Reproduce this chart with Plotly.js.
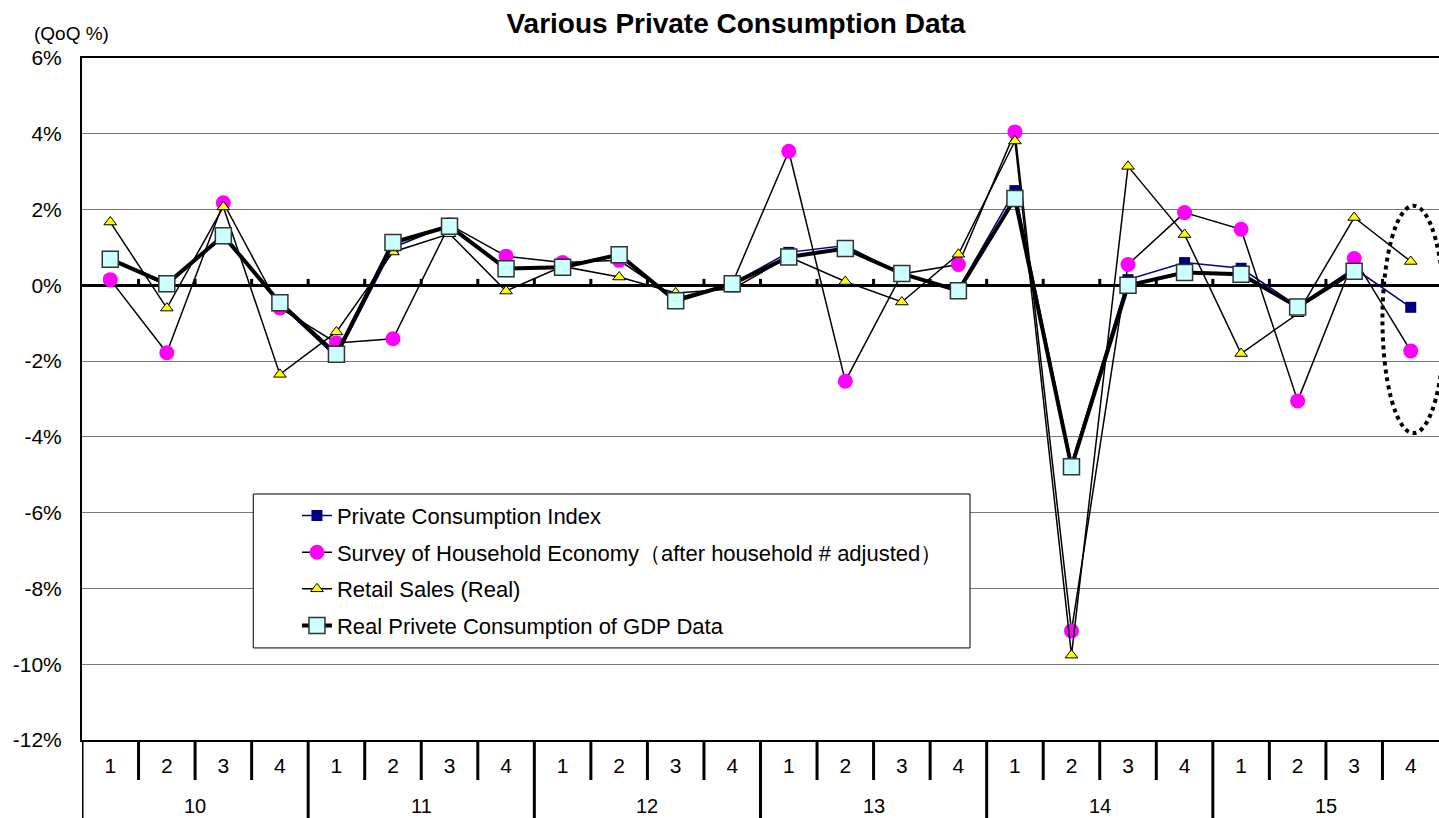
<!DOCTYPE html>
<html>
<head>
<meta charset="utf-8">
<script src="https://cdn.plot.ly/plotly-3.0.1.min.js"></script>
<style>html,body{margin:0;padding:0;background:#fff;}#chart{width:1439px;height:818px;}</style>
</head>
<body>
<div id="chart"></div>
<script>
// ---- data ----
const years = ['10', '11', '12', '13', '14', '15'];
const quarters = ['1', '2', '3', '4'];
const pci    = [0.70, 0.00, 1.30, -0.50, -1.90, 1.00, 1.60, 0.45, 0.50, 0.80, -0.40, 0.05, 0.87, 1.05, 0.30, -0.10, 2.50, -4.70, 0.15, 0.60, 0.45, -0.55, 0.45, -0.58];
const survey = [0.15, -1.78, 2.18, -0.60, -1.52, -1.41, 1.60, 0.77, 0.60, 0.66, -0.35, 0.05, 3.54, -2.53, 0.30, 0.55, 4.05, -9.12, 0.55, 1.92, 1.48, -3.05, 0.71, -1.73];
const retail = [1.67, -0.60, 2.07, -2.35, -1.23, 0.88, 1.36, -0.15, 0.50, 0.22, -0.20, -0.10, 0.75, 0.10, -0.44, 0.82, 3.81, -9.76, 3.14, 1.34, -1.80, -0.75, 1.79, 0.63];
const gdp    = [0.69, 0.04, 1.31, -0.46, -1.82, 1.13, 1.56, 0.44, 0.48, 0.81, -0.41, 0.04, 0.75, 0.97, 0.31, -0.14, 2.29, -4.79, 0.00, 0.34, 0.29, -0.57, 0.37, null];
const seriesNames = [
  'Private Consumption Index',
  'Survey of Household Economy\uFF08after household # adjusted\uFF09',
  'Retail Sales (Real)',
  'Real Privete Consumption of GDP Data'
];
const yTickVals = [-12, -10, -8, -6, -4, -2, 0, 2, 4, 6];
const yTickText = ['-12%', '-10%', '-8%', '-6%', '-4%', '-2%', '0%', '2%', '4%', '6%'];

// ---- build categories ----
const cats = [], qLabels = [];
years.forEach(y => quarters.forEach(q => { cats.push(y + '-' + q); qLabels.push(q); }));
const n = cats.length;

const font = '"Liberation Sans", Arial, sans-serif';

const traces = [
  {x: cats, y: pci, name: seriesNames[0], mode: 'lines+markers', legendgroup: 'a',
   line: {color: '#000080', width: 1.5}, marker: {symbol: 'square', size: 11, color: '#000080'}},
  {x: cats, y: survey, name: seriesNames[1], mode: 'lines+markers', legendgroup: 'b',
   line: {color: '#000000', width: 1.5}, marker: {symbol: 'circle', size: 15, color: '#FF00FF'}},
  {x: cats, y: retail, name: seriesNames[2], mode: 'lines+markers', legendgroup: 'c',
   line: {color: '#000000', width: 1.5}, marker: {symbol: 'triangle-up', size: 11, color: '#FFFF00', line: {color: '#000', width: 1}}},
  {x: cats, y: gdp, name: seriesNames[3], mode: 'lines+markers', legendgroup: 'd',
   line: {color: '#000000', width: 4}, marker: {symbol: 'square', size: 16, color: '#CCFFFF', line: {color: '#333', width: 1.5}}}
];

const shapes = [];
// legend box
shapes.push({type: 'rect', xref: 'paper', yref: 'paper', x0: 0.1262, x1: 0.6544, y0: 0.135, y1: 0.3607,
  fillcolor: '#fff', line: {color: '#000', width: 1}, layer: 'above'});
// quarter dividers below axis + small ticks on zero line
for (let i = 0; i < n - 1; i++) {
  const b = i + 0.5;
  const isYear = (i + 1) % quarters.length === 0;
  shapes.push({type: 'line', xref: 'x', yref: 'paper', x0: b, x1: b, y0: 0, y1: isYear ? -0.1144 : -0.0587,
    line: {color: '#000', width: 3}});
  shapes.push({type: 'line', xref: 'x', yref: 'y', x0: b, x1: b, y0: 0, y1: 0.17,
    line: {color: '#000', width: 3}});
}
shapes.push({type: 'line', xref: 'x', yref: 'paper', x0: -0.5, x1: -0.5, y0: 0, y1: -0.1144, line: {color: '#000', width: 3}});
// dotted ellipse highlighting latest quarter
shapes.push({type: 'circle', xref: 'x', yref: 'y', x0: n - 1.5, x1: n - 0.4, y0: -3.9, y1: 2.1,
  line: {color: '#000', width: 4, dash: 'dot'}, layer: 'above'});

const annotations = [];
years.forEach((y, k) => {
  annotations.push({text: y, xref: 'x', yref: 'paper', x: k * quarters.length + (quarters.length - 1) / 2, y: -0.097,
    showarrow: false, yanchor: 'middle', font: {family: font, size: 20, color: '#000'}});
});
annotations.push({text: '(QoQ %)', xref: 'paper', yref: 'paper', x: -0.0369, y: 1.0352, xanchor: 'left', yanchor: 'middle',
  showarrow: false, font: {family: font, size: 19, color: '#000'}});

const layout = {
  width: 1439, height: 818,
  margin: {l: 82, r: 0, t: 58, b: 78},
  paper_bgcolor: '#fff', plot_bgcolor: '#fff',
  title: {text: '<b>Various Private Consumption Data</b>', x: 0.4819, xref: 'paper', xanchor: 'center',
    y: 1 - 23 / 818, yref: 'container', yanchor: 'middle', font: {family: font, size: 28, color: '#000'}},
  xaxis: {type: 'category', tickvals: cats, ticktext: qLabels, ticks: '', showgrid: false,
    showline: true, linecolor: '#000', linewidth: 2, mirror: true, zeroline: false,
    ticklabelstandoff: 6, tickfont: {family: font, size: 21, color: '#000'}, range: [-0.5, n - 0.5]},
  yaxis: {range: [-12, 6], tickvals: yTickVals, ticktext: yTickText, showgrid: true, gridcolor: '#777', gridwidth: 1,
    zeroline: true, zerolinecolor: '#000', zerolinewidth: 3, showline: true, linecolor: '#000', linewidth: 2,
    ticks: '', tickfont: {family: font, size: 21, color: '#000'}, ticklabelstandoff: 14},
  showlegend: true,
  legend: {x: 0.1584, y: 0.3595, xanchor: 'left', yanchor: 'top', bgcolor: 'rgba(0,0,0,0)', borderwidth: 0,
    traceorder: 'grouped', tracegroupgap: 5, font: {family: font, size: 22, color: '#000'}},
  shapes: shapes,
  annotations: annotations
};

Plotly.newPlot('chart', traces, layout, {displayModeBar: false, staticPlot: true});
</script>
</body>
</html>
